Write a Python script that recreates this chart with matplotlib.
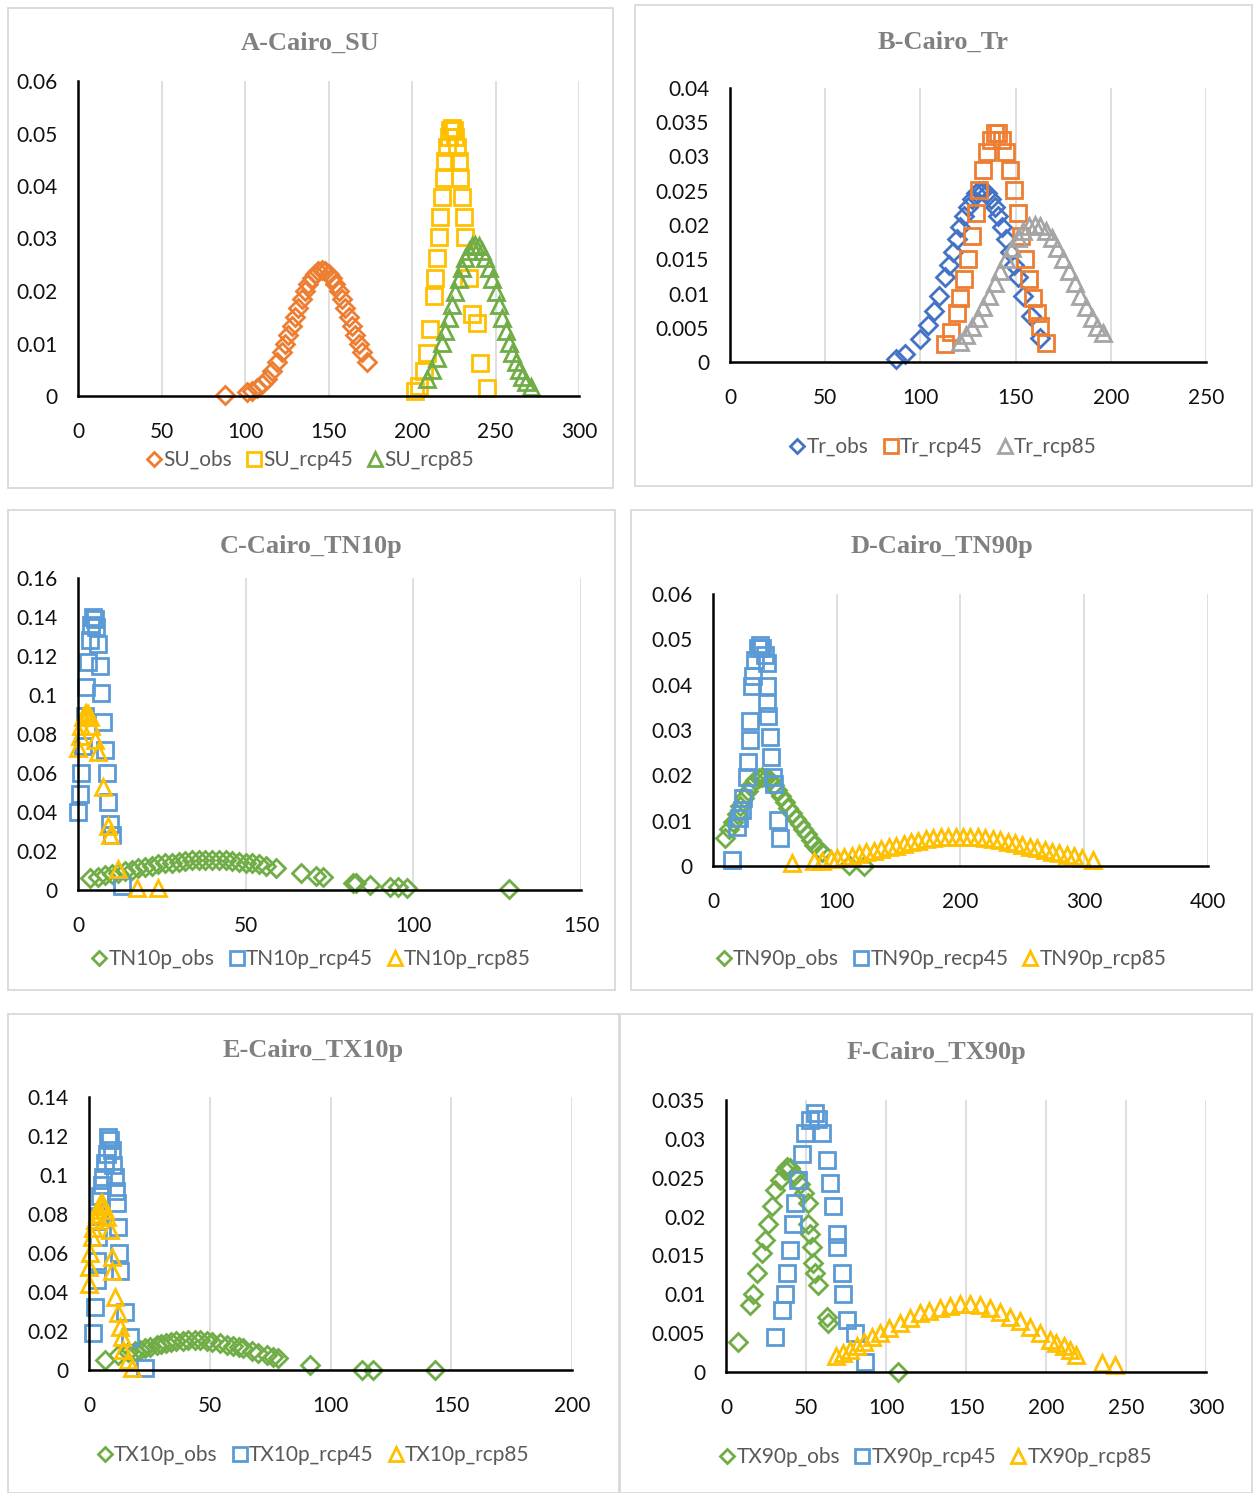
import matplotlib
matplotlib.use('Agg')
import matplotlib.pyplot as plt
from matplotlib.patches import Rectangle
from matplotlib.ticker import FuncFormatter

plt.rcParams['font.family'] = ['Lato', 'DejaVu Sans']

# ---------------- data ----------------
# A - Cairo SU
su_obs_x = [88, 101, 104, 107, 110, 113, 116, 119, 122, 124, 126, 128, 130, 132, 134, 136, 138, 140,
            142, 144, 146, 148, 150, 152, 154, 156, 158, 160, 162, 164, 166, 168, 170, 173]
su_obs_y = [0.0001, 0.0008, 0.001, 0.0015, 0.0023, 0.0033, 0.0047, 0.0064, 0.0084, 0.010, 0.0116, 0.0133,
            0.0151, 0.0168, 0.0185, 0.020, 0.0214, 0.0225, 0.0233, 0.0238, 0.024, 0.0238, 0.0233, 0.0225,
            0.0214, 0.020, 0.0185, 0.0168, 0.0151, 0.0133, 0.0116, 0.010, 0.0084, 0.0064]
su_45_x = [202, 204, 207, 209, 211, 213, 214, 215, 216, 217, 218, 219, 220, 221, 222, 223, 224, 225,
           226, 227, 228, 229, 230, 231, 232, 234, 236, 239, 241, 245]
su_45_y = [0.001, 0.0019, 0.0048, 0.0081, 0.0128, 0.019, 0.0225, 0.0263, 0.0302, 0.0341, 0.038, 0.0416,
           0.0447, 0.0474, 0.0494, 0.0506, 0.051, 0.0506, 0.0494, 0.0474, 0.0447, 0.0416, 0.038, 0.0341,
           0.0302, 0.0225, 0.0157, 0.014, 0.0062, 0.0015]
su_85_x = [209, 212, 215, 218, 220, 222, 224, 226, 228, 230, 232, 234, 236, 238, 240, 242, 244, 246,
           248, 250, 252, 254, 256, 258, 260, 262, 264, 266, 268, 271]
su_85_y = [0.0032, 0.0049, 0.0072, 0.0101, 0.0124, 0.0148, 0.0173, 0.0198, 0.0222, 0.0244, 0.0262, 0.0276,
           0.0285, 0.0288, 0.0285, 0.0276, 0.0262, 0.0244, 0.0222, 0.0198, 0.0173, 0.0148, 0.0124, 0.0101,
           0.0081, 0.0064, 0.0049, 0.0037, 0.0027, 0.0017]

# B - Cairo Tr
tr_obs_x = [87, 92, 100, 104, 107, 110, 113, 115, 117, 119, 121, 123, 125, 127, 129, 131, 133, 135,
            137, 139, 141, 143, 145, 147, 149, 151, 154, 158, 163]
tr_obs_y = [0.0005, 0.0011, 0.0034, 0.0054, 0.0074, 0.0097, 0.0124, 0.0142, 0.0161, 0.018, 0.0197, 0.0213,
            0.0227, 0.0238, 0.0246, 0.025, 0.025, 0.0246, 0.0238, 0.0227, 0.0213, 0.0197, 0.018, 0.0161,
            0.0142, 0.0124, 0.0097, 0.0067, 0.0035]
tr_45_x = [113, 116, 119, 121, 123, 125, 127, 129, 131, 133, 135, 137, 139, 141, 143, 145, 147, 149,
           151, 153, 155, 157, 159, 161, 163, 166]
tr_45_y = [0.0026, 0.0044, 0.0071, 0.0094, 0.0121, 0.0151, 0.0184, 0.0218, 0.0251, 0.0281, 0.0306, 0.0324,
           0.0334, 0.0334, 0.0324, 0.0306, 0.0281, 0.0251, 0.0218, 0.0184, 0.0151, 0.0121, 0.0094, 0.0071,
           0.0052, 0.0028]
tr_85_x = [121, 124, 127, 130, 133, 136, 139, 142, 145, 148, 151, 154, 157, 160, 163, 166, 169, 172,
           175, 178, 181, 184, 187, 190, 193, 196]
tr_85_y = [0.0029, 0.0039, 0.0051, 0.0064, 0.008, 0.0097, 0.0115, 0.0133, 0.0151, 0.0167, 0.0181, 0.0191,
           0.0198, 0.020, 0.0198, 0.0191, 0.0181, 0.0167, 0.0151, 0.0133, 0.0115, 0.0097, 0.008, 0.0064,
           0.0051, 0.0042]

# C - Cairo TN10p
tn10_obs_x = [3.6, 6, 8, 10, 12, 14, 16, 18, 20, 22, 24, 26, 28, 30, 32, 34, 36, 38, 40, 42, 44, 46,
              48, 50, 52, 54, 56, 59, 66.5, 71, 73, 82, 83, 87, 93, 95.5, 98, 128.5]
tn10_obs_y = [0.0062, 0.0068, 0.0075, 0.0082, 0.0089, 0.0097, 0.0104, 0.0111, 0.0118, 0.0125, 0.0131,
              0.0136, 0.0141, 0.0146, 0.0149, 0.0152, 0.0154, 0.0155, 0.0155, 0.0154, 0.0152, 0.0149,
              0.0146, 0.0141, 0.0136, 0.0131, 0.0125, 0.0115, 0.0088, 0.0072, 0.0065, 0.0038, 0.0036,
              0.0027, 0.0017, 0.0014, 0.0012, 0.0003]
tn10_45_x = [0, 0.5, 1, 1.5, 2, 2.5, 3, 3.5, 4, 4.5, 5, 5.5, 6, 6.5, 7, 7.5, 8, 8.5, 9, 9.5, 10, 13]
tn10_45_y = [0.04, 0.049, 0.060, 0.074, 0.089, 0.104, 0.117, 0.128, 0.136, 0.14, 0.139, 0.135, 0.126,
             0.115, 0.101, 0.086, 0.072, 0.060, 0.045, 0.034, 0.028, 0.002]
tn10_85_x = [0, 0.5, 1, 1.5, 2, 2.5, 3, 3.5, 4, 5, 6, 7.5, 9, 9.5, 12, 17.5, 24]
tn10_85_y = [0.073, 0.079, 0.084, 0.0887, 0.0904, 0.091, 0.0904, 0.0887, 0.084, 0.077, 0.071, 0.053,
             0.033, 0.028, 0.011, 0.001, 0.001]

# D - Cairo TN90p
tn90_obs_x = [10, 13, 16, 19, 22, 25, 28, 31, 34, 37, 40, 43, 46, 49, 52, 55, 58, 61, 64, 67, 70, 73,
              76, 79, 82, 85, 88, 110, 122]
tn90_obs_y = [0.0062, 0.0081, 0.0098, 0.0115, 0.0133, 0.015, 0.0165, 0.0178, 0.0189, 0.0195, 0.0197,
              0.0195, 0.0189, 0.0179, 0.0167, 0.0155, 0.0141, 0.0127, 0.0117, 0.0104, 0.0093, 0.0081,
              0.007, 0.0058, 0.0047, 0.0038, 0.003, 0.0002, 0.0001]
tn90_45_x = [15, 19.2, 21, 23.2, 24.5, 27.2, 28, 29.9, 30, 31.3, 32.5, 34, 36, 38, 40, 42, 43.4, 43.4,
             44, 44.7, 46.1, 47, 48.7, 49.5, 52.8, 54.1]
tn90_45_y = [0.0013, 0.0087, 0.0105, 0.0124, 0.015, 0.0197, 0.023, 0.0278, 0.032, 0.0396, 0.042, 0.0454,
             0.048, 0.0488, 0.048, 0.0465, 0.0447, 0.0396, 0.036, 0.033, 0.0285, 0.024, 0.0197, 0.018,
             0.0101, 0.0061]
tn90_85_x = [64, 82, 88, 95, 100, 106, 112, 118, 124, 130, 136, 142, 148, 154, 160, 166, 172, 178, 184,
             190, 196, 202, 208, 214, 220, 226, 232, 238, 244, 250, 256, 262, 268, 274, 280, 286, 292,
             298, 307]
tn90_85_y = [0.0006, 0.001, 0.0012, 0.0015, 0.0017, 0.002, 0.0023, 0.0027, 0.003, 0.0034, 0.0038, 0.0042,
             0.0045, 0.0049, 0.0053, 0.0056, 0.0059, 0.0061, 0.0063, 0.0064, 0.0065, 0.0065, 0.0064,
             0.0063, 0.0062, 0.0059, 0.0057, 0.0054, 0.005, 0.0047, 0.0043, 0.0039, 0.0035, 0.0031,
             0.0028, 0.0024, 0.0021, 0.0018, 0.0014]

# E - Cairo TX10p
tx10_obs_x = [6.6, 12, 16, 19, 21, 23, 25.3, 28, 30, 32, 34, 36, 39, 41, 43.9, 46, 48.7, 51, 54.2, 57,
              59.8, 62, 63.9, 67.4, 70, 73.6, 76, 78.4, 91.5, 112.9, 117.7, 143.3]
tx10_obs_y = [0.0051, 0.0075, 0.009, 0.0098, 0.0103, 0.0112, 0.012, 0.0128, 0.0134, 0.014, 0.0144,
              0.0148, 0.0151, 0.0153, 0.0154, 0.0152, 0.0148, 0.0143, 0.0137, 0.013, 0.0123, 0.0116,
              0.0111, 0.0099, 0.0088, 0.0077, 0.0068, 0.006, 0.0026, 0.0002, 0.0001, 0.0]
tx10_45_x = [1.8, 2.5, 3.2, 3.5, 3.9, 4.3, 4.6, 5.2, 5.9, 6.5, 7.3, 8, 8.8, 9.5, 10, 10.8, 11.2, 11.5,
             12.1, 12.4, 12.8, 14.9, 17, 23.2]
tx10_45_y = [0.0188, 0.0325, 0.046, 0.056, 0.068, 0.079, 0.089, 0.095, 0.099, 0.106, 0.111, 0.1197,
             0.118, 0.113, 0.105, 0.099, 0.092, 0.0856, 0.0735, 0.06, 0.051, 0.030, 0.017, 0.001]
tx10_85_x = [0, 0.2, 0.5, 1.1, 1.8, 2.5, 3.2, 3.9, 4.6, 5.2, 5.9, 6.6, 7.3, 8.7, 9.4, 9.6, 10.8, 12.1,
             12.8, 13.5, 14.2, 16.3, 17.7]
tx10_85_y = [0.044, 0.053, 0.060, 0.068, 0.073, 0.077, 0.080, 0.082, 0.085, 0.0855, 0.084, 0.082, 0.0786,
             0.0718, 0.058, 0.051, 0.0376, 0.029, 0.022, 0.017, 0.0103, 0.005, 0.0009]

# F - Cairo TX90p
tx90_obs_x = [7.7, 15, 17, 19.2, 22.3, 24.4, 26.5, 28.6, 30.6, 33.8, 36.9, 37.9, 40, 43, 46, 49, 51.5,
              51.5, 52.5, 53.6, 54.6, 55.6, 57.7, 62.9, 64, 107.7]
tx90_obs_y = [0.0039, 0.0086, 0.0101, 0.0127, 0.0153, 0.017, 0.0191, 0.0213, 0.0234, 0.0247, 0.026,
              0.0264, 0.0262, 0.0253, 0.0242, 0.023, 0.0217, 0.0191, 0.0178, 0.0161, 0.014, 0.0127,
              0.0112, 0.0071, 0.0063, 0.0]
tx90_45_x = [30.6, 34.8, 36.9, 37.9, 40, 42, 43.1, 45.2, 47.3, 49.4, 52.5, 55.6, 57.7, 59.8, 62.9, 65,
             67.1, 69.2, 69.2, 72.3, 73.3, 75.4, 80.6, 86.9]
tx90_45_y = [0.0045, 0.008, 0.0101, 0.0127, 0.0157, 0.0191, 0.0217, 0.0247, 0.0281, 0.0307, 0.0324,
             0.0333, 0.0325, 0.0307, 0.0273, 0.0243, 0.0213, 0.0178, 0.0161, 0.0127, 0.0101, 0.0067,
             0.005, 0.0013]
tx90_85_x = [69, 73, 77.5, 82, 86, 91, 96, 102, 109, 115, 121, 127, 134, 140, 146, 152.5, 159, 165, 171,
             177.5, 184, 190, 196, 202.5, 206, 211, 215, 219, 235, 243]
tx90_85_y = [0.002, 0.0024, 0.0028, 0.0034, 0.0039, 0.0045, 0.005, 0.0057, 0.0063, 0.007, 0.0076,
             0.0079, 0.0082, 0.0085, 0.0088, 0.0088, 0.0086, 0.0082, 0.0077, 0.0071, 0.0065, 0.0058,
             0.005, 0.0041, 0.0037, 0.0033, 0.0028, 0.0022, 0.0011, 0.0009]

# ---------------- drawing ----------------
W, H = 1253, 1493
fig = plt.figure(figsize=(W / 100, H / 100), dpi=100)

ORANGE, YELLOW, GREEN = '#ED7D31', '#FFC000', '#70AD47'
BLUE_DARK, BLUE, GRAY = '#4472C4', '#5B9BD5', '#A5A5A5'


def box(x0, y0, x1, y1):
    fig.patches.append(Rectangle((x0 / W, 1 - y1 / H), (x1 - x0) / W, (y1 - y0) / H,
                                 transform=fig.transFigure, fill=False,
                                 edgecolor='#d9d9d9', linewidth=1.3))


def panel(pbox, abox, title, title_y, xmax, xstep, ymax, ystep, series, leg_y):
    box(*pbox)
    x0, y0, x1, y1 = abox
    ax = fig.add_axes([x0 / W, 1 - y1 / H, (x1 - x0) / W, (y1 - y0) / H])
    cx = (pbox[0] + pbox[2]) / 2
    fig.text(cx / W, 1 - title_y / H, title, ha='center', va='center',
             family='Liberation Serif', weight='bold', fontsize=19, color='#808080')
    for xs, ys, mk, col, lab in series:
        ms = 9.5 if mk == 'D' else 12
        ax.plot(xs, ys, linestyle='none', marker=mk, markersize=ms, markerfacecolor='none',
                markeredgecolor=col, markeredgewidth=2.0, label=lab, clip_on=False)
    ax.set_xlim(0, xmax)
    ax.set_ylim(0, ymax)
    n = int(round(xmax / xstep))
    ax.set_xticks([i * xstep for i in range(n + 1)])
    m = int(round(ymax / ystep))
    ax.set_yticks([round(i * ystep, 4) for i in range(m + 1)])
    ax.yaxis.set_major_formatter(FuncFormatter(lambda v, p: '%g' % round(v, 4)))
    ax.grid(axis='x', color='#d9d9d9', linewidth=1.2)
    ax.set_axisbelow(True)
    for s in ['top', 'right']:
        ax.spines[s].set_visible(False)
    ax.spines['left'].set_linewidth(1.8)
    ax.spines['bottom'].set_linewidth(1.8)
    ax.tick_params(length=0, labelsize=15, labelcolor='#111111')
    ax.tick_params(axis='y', pad=15)
    ax.tick_params(axis='x', pad=19)
    leg = ax.legend(loc='center', bbox_to_anchor=(cx / W, 1 - leg_y / H), bbox_transform=fig.transFigure,
                    ncol=3, frameon=False, fontsize=15, handlelength=0.7, handletextpad=0.1,
                    columnspacing=0.7, markerscale=0.8)
    for t in leg.get_texts():
        t.set_color('#595959')
    return ax


panel((8, 8, 613, 488), (78, 81, 579, 396), 'A-Cairo_SU', 43, 300, 50, 0.06, 0.01,
      [(su_obs_x, su_obs_y, 'D', ORANGE, 'SU_obs'),
       (su_45_x, su_45_y, 's', YELLOW, 'SU_rcp45'),
       (su_85_x, su_85_y, '^', GREEN, 'SU_rcp85')], 460)

panel((635, 5, 1252, 486), (730, 88, 1206, 362), 'B-Cairo_Tr', 42, 250, 50, 0.04, 0.005,
      [(tr_obs_x, tr_obs_y, 'D', BLUE_DARK, 'Tr_obs'),
       (tr_45_x, tr_45_y, 's', ORANGE, 'Tr_rcp45'),
       (tr_85_x, tr_85_y, '^', GRAY, 'Tr_rcp85')], 447)

panel((8, 510, 615, 990), (78, 578, 581, 890), 'C-Cairo_TN10p', 546, 150, 50, 0.16, 0.02,
      [(tn10_obs_x, tn10_obs_y, 'D', GREEN, 'TN10p_obs'),
       (tn10_45_x, tn10_45_y, 's', BLUE, 'TN10p_rcp45'),
       (tn10_85_x, tn10_85_y, '^', YELLOW, 'TN10p_rcp85')], 959)

panel((631, 510, 1252, 990), (713, 594, 1208, 866), 'D-Cairo_TN90p', 546, 400, 100, 0.06, 0.01,
      [(tn90_obs_x, tn90_obs_y, 'D', GREEN, 'TN90p_obs'),
       (tn90_45_x, tn90_45_y, 's', BLUE, 'TN90p_recp45'),
       (tn90_85_x, tn90_85_y, '^', YELLOW, 'TN90p_rcp85')], 959)

panel((8, 1014, 619, 1493), (89, 1097, 572, 1370), 'E-Cairo_TX10p', 1050, 200, 50, 0.14, 0.02,
      [(tx10_obs_x, tx10_obs_y, 'D', GREEN, 'TX10p_obs'),
       (tx10_45_x, tx10_45_y, 's', BLUE, 'TX10p_rcp45'),
       (tx10_85_x, tx10_85_y, '^', YELLOW, 'TX10p_rcp85')], 1455)

panel((620, 1014, 1252, 1493), (726, 1100, 1206, 1372), 'F-Cairo_TX90p', 1052, 300, 50, 0.035, 0.005,
      [(tx90_obs_x, tx90_obs_y, 'D', GREEN, 'TX90p_obs'),
       (tx90_45_x, tx90_45_y, 's', BLUE, 'TX90p_rcp45'),
       (tx90_85_x, tx90_85_y, '^', YELLOW, 'TX90p_rcp85')], 1457)

fig.savefig('out.png', dpi=100)
